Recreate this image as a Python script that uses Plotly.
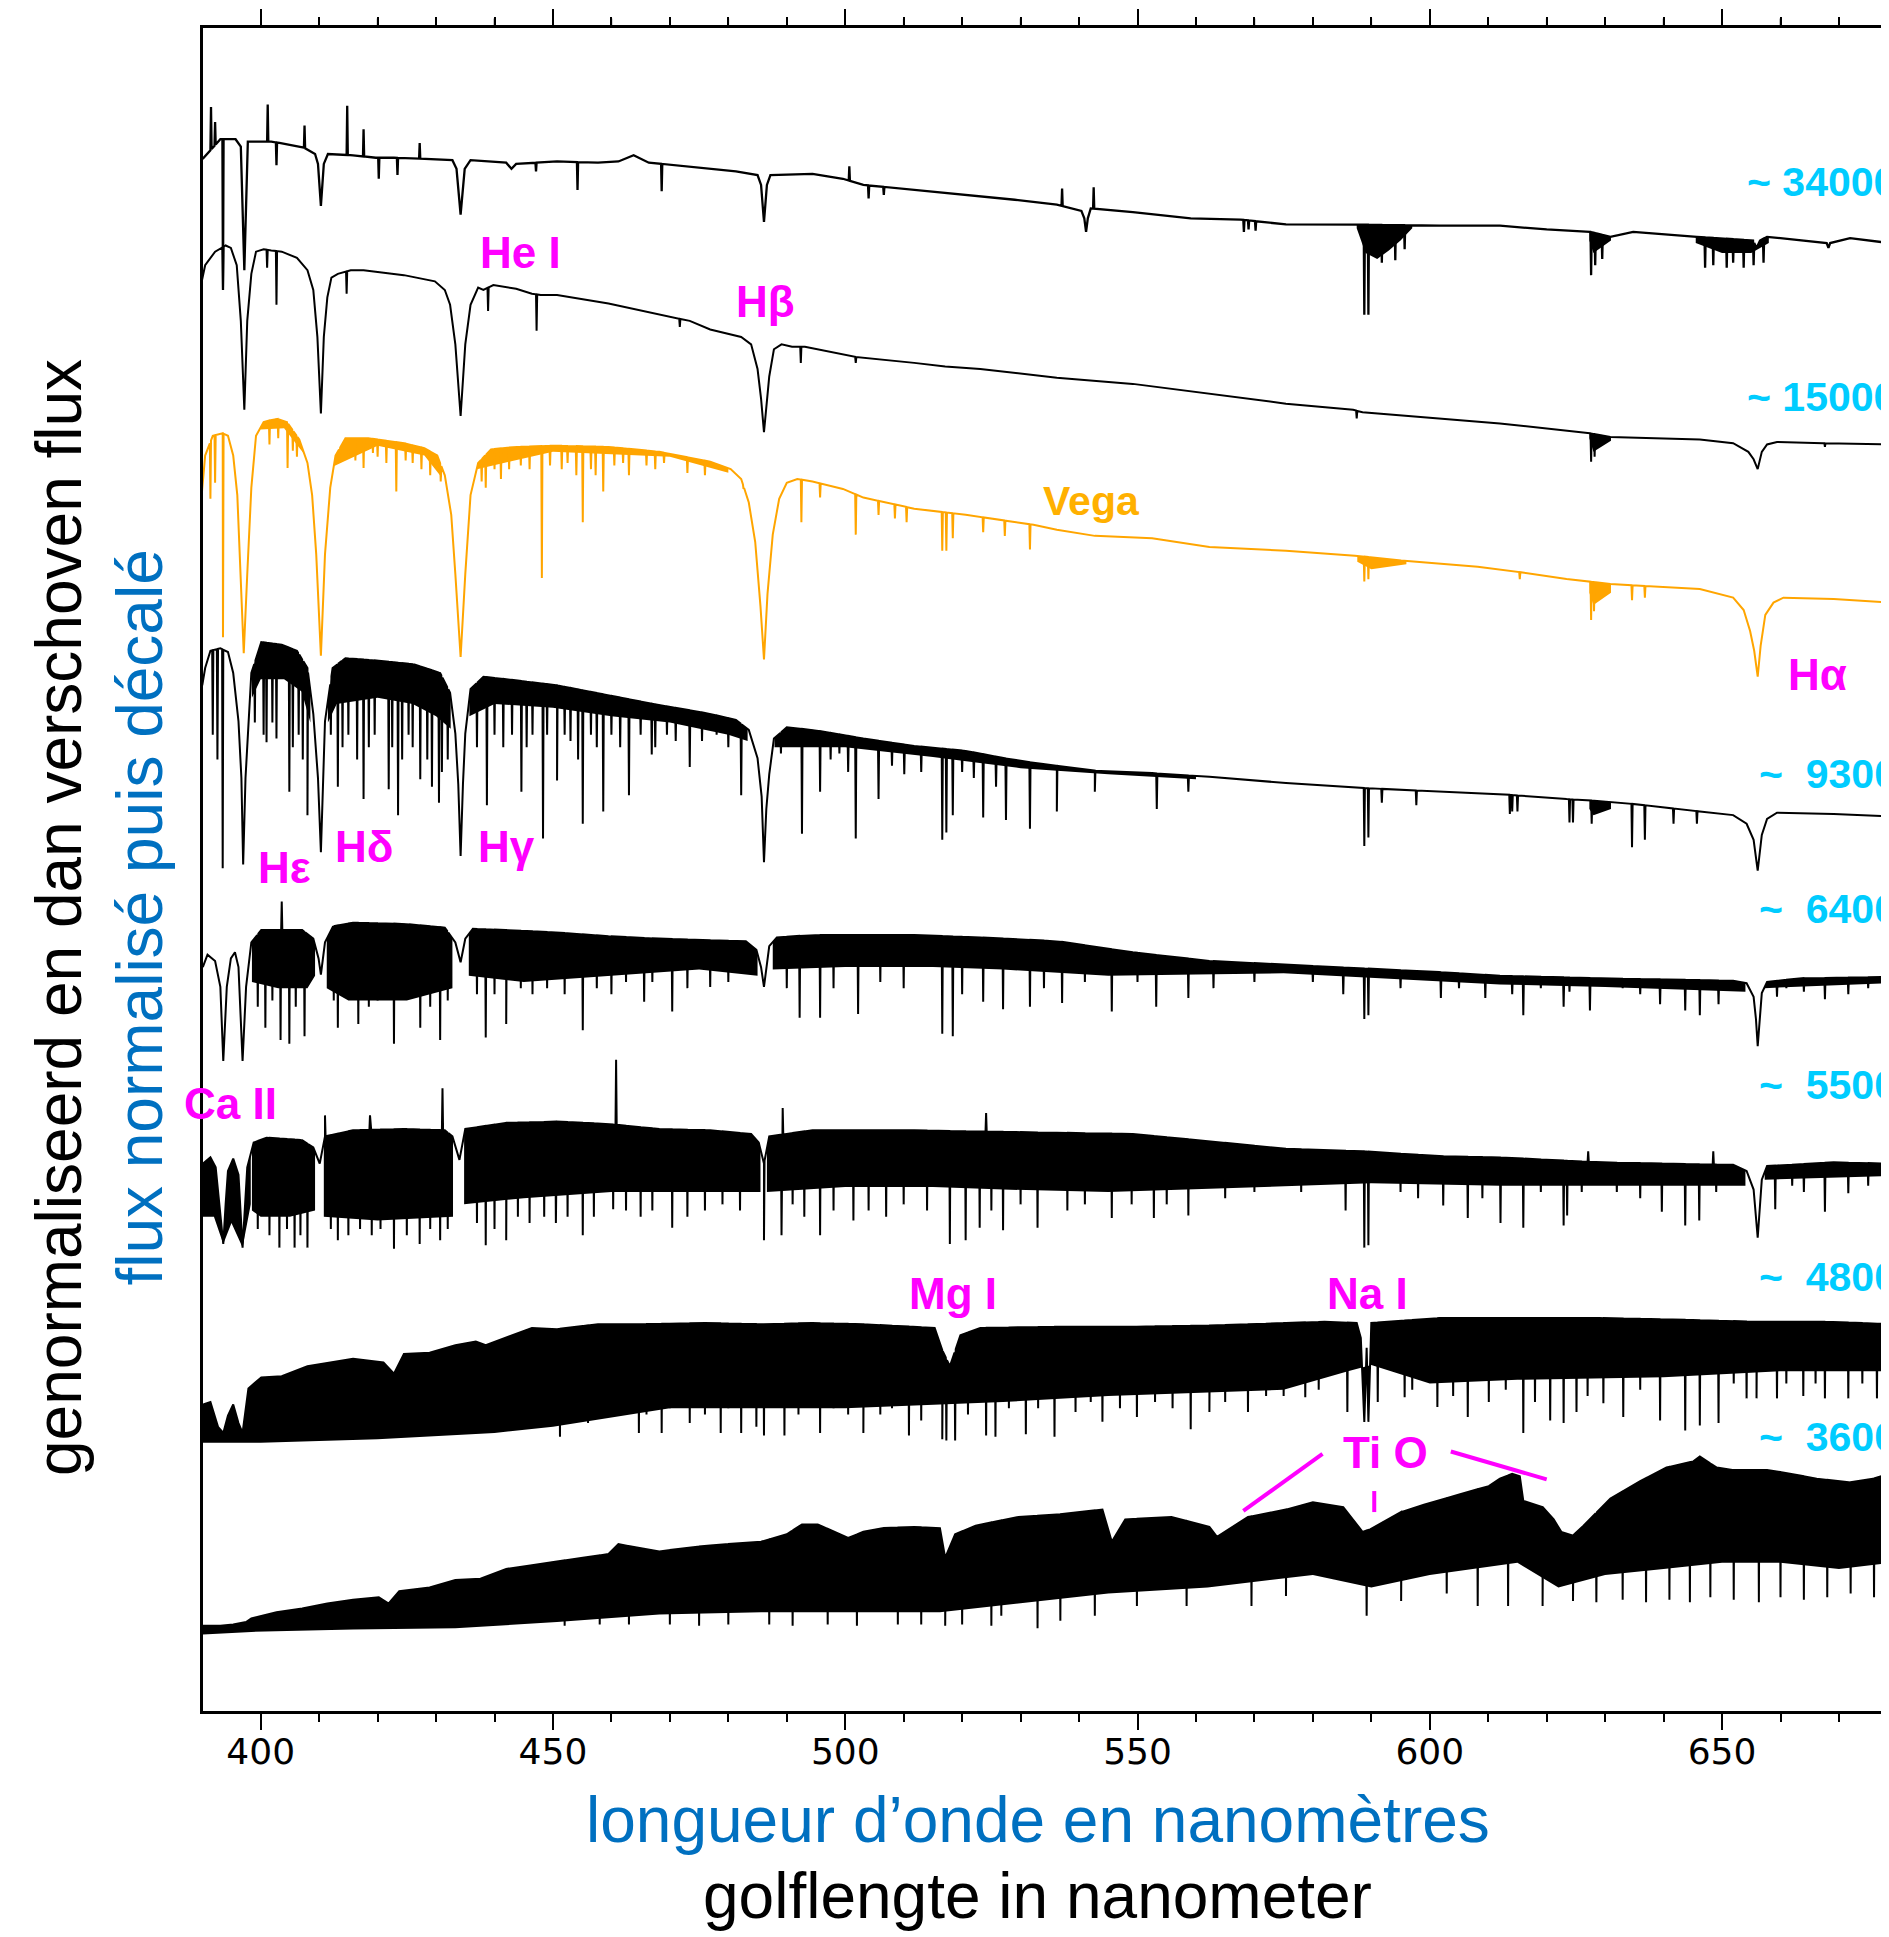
import numpy as np
import plotly.graph_objects as go

# ---------------- data ----------------
# every spectrum: continuum / profile points (wavelength nm, shifted normalised flux)
# narrow lines (wavelength, flux at line bottom or spike top)
# dense line-forest bands (wavelength, lower edge of the black band), None separates bands

T34_KNOTS = [(390.06,12.56),(393.1,12.72),(395.7,12.72),(396.6,12.66),(397.2,11.66),(397.8,12.70),(401.8,12.70),
    (403.2,12.69),(407.1,12.66),(409.3,12.60),(409.8,12.52),(410.3,12.18),(410.8,12.52),(411.5,12.60),(415.8,12.59),
    (419.7,12.57),(422.8,12.57),(428.9,12.56),(432.8,12.55),(433.5,12.48),(434.2,12.11),(434.9,12.48),(435.9,12.55),
    (442.0,12.53),(442.9,12.48),(443.7,12.52),(450.7,12.54),(457.7,12.53),(461.2,12.54),(463.8,12.59),(466.4,12.53),
    (470.8,12.51),(476.9,12.48),(481.3,12.46),(485.0,12.43),(485.6,12.35),(486.1,12.05),(486.6,12.35),(487.2,12.43),
    (494.4,12.44),(499.6,12.40),(503.1,12.35),(511.8,12.31),(520.6,12.27),(529.0,12.23),(536.2,12.19),(540.4,12.14),
    (540.9,12.08),(541.2,11.97),(541.5,12.08),(542.0,12.16),(549.2,12.13),(559.1,12.08),(567.6,12.07),(575.4,12.03),
    (586.6,12.03),(601.6,12.02),(612.0,12.02),(620.0,11.99),(627.4,11.97),(630.9,11.93),(634.8,11.97),(645.7,11.93),
    (655.3,11.90),(655.9,11.84),(656.5,11.90),(657.7,11.93),(667.9,11.88),(668.2,11.84),(668.5,11.88),(671.9,11.92),
    (678.6,11.88)]
T34_LINES = [(393.55,11.50),(402.7,12.51),(420.2,12.40),(423.4,12.43),(447.1,12.46),(454.2,12.31),(468.6,12.30),
    (504.0,12.24),(506.6,12.27),(568.2,11.97),(569.0,11.99),(570.2,11.98),(588.8,11.30),(589.5,11.30),(591.1,11.79),
    (591.8,11.72),(594.1,11.74),(595.7,11.83),(627.6,11.62),(628.3,11.70),(629.5,11.75),(647.1,11.68),(648.5,11.70),
    (650.8,11.68),(651.9,11.72),(653.7,11.68),(655.4,11.70),(657.1,11.72),
    (391.5,12.98),(392.2,12.86),(401.2,13.00),(407.5,12.83),(414.8,12.99),(417.6,12.80),(427.2,12.69),(500.7,12.50),
    (537.1,12.32),(542.5,12.33)]
T34_BANDS = [(587.5,12.00),(589.0,11.80),(591.0,11.75),(593.0,11.82),(595.0,11.90),(597.0,12.00),
    None,(627.3,11.90),(628.0,11.80),(631.0,11.90),None,(645.5,11.88),(650.0,11.80),(655.0,11.80),(658.0,11.88)]

T15_KNOTS = [(389.6,11.50),(390.5,11.70),(392.2,11.81),(394.0,11.86),(394.9,11.84),(395.9,11.70),(396.6,11.25),
    (397.2,10.53),(397.7,11.25),(398.4,11.63),(399.2,11.81),(400.5,11.83),(401.8,11.82),(403.6,11.81),(406.2,11.76),
    (408.0,11.66),(409.0,11.50),(409.7,11.12),(410.3,10.50),(410.8,11.12),(411.4,11.44),(412.1,11.60),(413.2,11.63),
    (415.4,11.66),(417.6,11.66),(424.5,11.62),(429.8,11.57),(431.5,11.50),(432.4,11.38),(433.3,11.06),(434.2,10.48),
    (435.0,11.06),(435.9,11.38),(437.2,11.52),(438.1,11.50),(439.8,11.54),(443.7,11.51),(446.4,11.47),(447.9,11.46),
    (450.7,11.46),(459.5,11.39),(468.2,11.30),(473.4,11.25),(476.9,11.18),(482.2,11.12),(483.9,11.06),(485.0,10.86),
    (485.6,10.62),(486.1,10.35),(486.6,10.62),(487.0,10.80),(487.8,11.02),(489.1,11.06),(490.9,11.04),(493.1,11.04),
    (501.4,10.96),(511.8,10.91),(517.1,10.88),(523.1,10.86),(536.2,10.79),(549.2,10.74),(562.3,10.66),(575.4,10.58),
    (586.9,10.53),(588.5,10.51),(601.6,10.46),(612.0,10.42),(627.4,10.34),(630.9,10.31),(646.2,10.29),(651.9,10.26),
    (654.5,10.19),(655.4,10.13),(656.1,10.05),(656.8,10.19),(657.7,10.25),(659.4,10.27),(667.3,10.26),(678.6,10.25)]
T15_LINES = [(393.55,11.50),(401.1,11.68),(402.7,11.38),(414.7,11.47),(438.9,11.33),(447.2,11.17),(471.7,11.20),
    (492.4,10.91),(501.8,10.91),(587.5,10.46),(627.6,10.11),(628.2,10.15),(667.6,10.23)]
T15_BANDS = [(627.3,10.30),(628.0,10.19),(631.0,10.28)]

VEGA_KNOTS = [(389.6,9.68),(390.5,10.16),(391.8,10.32),(393.5,10.34),(394.4,10.32),(395.3,10.16),(396.0,9.84),
    (396.6,9.20),(397.1,8.56),(397.7,9.20),(398.4,9.90),(399.2,10.32),(400.5,10.43),(402.7,10.46),(404.5,10.43),
    (406.6,10.29),(408.0,10.10),(408.8,9.84),(409.5,9.36),(410.3,8.54),(411.0,9.36),(411.9,9.90),(412.8,10.16),
    (414.5,10.30),(418.4,10.30),(424.5,10.26),(428.0,10.22),(430.2,10.16),(431.5,10.00),(432.6,9.68),(433.3,9.20),
    (434.2,8.53),(435.0,9.20),(435.9,9.84),(437.2,10.10),(439.4,10.21),(443.7,10.23),(450.7,10.24),(459.5,10.23),
    (468.2,10.19),(476.9,10.11),(480.4,10.05),(482.2,9.97),(483.5,9.78),(484.6,9.46),(485.5,8.94),(486.1,8.51),
    (486.7,9.04),(487.6,9.52),(488.7,9.81),(490.0,9.94),(491.8,9.97),(494.4,9.95),(499.6,9.89),(503.1,9.82),
    (511.8,9.73),(520.6,9.68),(532.2,9.60),(536.2,9.56),(542.7,9.51),(552.5,9.49),(562.3,9.42),(575.4,9.39),
    (587.2,9.35),(595.1,9.31),(608.2,9.26),(612.0,9.24),(623.4,9.16),(627.4,9.14),(630.9,9.12),(646.2,9.08),
    (651.9,9.01),(653.7,8.91),(654.8,8.74),(655.5,8.58),(656.1,8.37),(656.6,8.62),(657.4,8.87),(658.8,8.97),
    (660.5,9.01),(669.1,9.00),(678.6,8.97)]
VEGA_LINES = [(391.4,9.81),(392.2,9.94),(393.55,8.69),(401.5,10.25),(403.0,10.30),(404.6,10.06),(405.5,10.20),
    (406.2,10.15),(413.5,10.10),(415.0,10.15),(416.2,10.12),(417.6,10.06),(419.2,10.18),(420.0,10.15),(421.5,10.10),
    (423.2,9.87),(424.8,10.12),(426.0,10.10),(427.5,10.05),(429.0,10.00),(430.8,9.95),(437.8,9.95),(438.5,9.90),
    (440.0,10.05),(441.1,9.97),(442.5,10.05),(444.5,10.08),(446.0,10.05),(448.1,9.17),(449.5,10.08),(451.5,10.05),
    (452.5,10.10),(454.0,10.00),(455.1,9.62),(456.5,10.05),(457.3,10.00),(458.6,9.87),(460.5,10.08),(462.0,10.10),
    (463.0,10.00),(466.0,10.08),(467.5,10.05),(469.0,10.10),(473.0,10.02),(476.0,10.00),(482.6,9.89),(492.5,9.62),
    (495.7,9.82),(501.8,9.52),(505.7,9.68),(508.5,9.65),(510.5,9.62),(516.6,9.39),(517.3,9.39),(518.4,9.49),
    (523.6,9.54),(527.3,9.51),(531.6,9.40),(588.8,9.14),(589.5,9.16),(615.4,9.16),(627.6,8.83),(628.1,8.90),
    (634.6,8.99),(636.8,9.01)]
VEGA_BANDS = [(400.0,10.37),(404.0,10.38),(407.5,10.22),None,(412.5,10.08),(420.0,10.24),(428.0,10.16),(431.0,9.98),
    None,(437.0,10.05),(450.0,10.19),(470.0,10.15),(480.0,10.02),None,(587.6,9.30),(590.0,9.24),(596.0,9.28),
    None,(627.3,9.05),(628.0,8.95),(631.0,9.05)]

T93_KNOTS = [(390.0,8.30),(390.5,8.44),(391.4,8.58),(393.1,8.60),(394.4,8.57),(395.3,8.40),(396.2,8.01),(396.7,7.55),
    (397.0,6.85),(397.4,7.55),(397.7,7.84),(398.4,8.40),(400.1,8.65),(403.6,8.63),(406.2,8.58),(408.0,8.44),
    (409.0,8.07),(409.8,7.55),(410.3,6.95),(410.7,7.55),(411.0,8.01),(412.3,8.44),(414.5,8.52),(420.2,8.50),
    (426.3,8.47),(430.7,8.40),(432.4,8.24),(433.3,7.91),(433.8,7.50),(434.2,6.92),(434.6,7.50),(435.0,7.91),
    (435.9,8.27),(438.1,8.37),(442.0,8.35),(450.7,8.30),(459.5,8.22),(468.2,8.14),(476.9,8.07),(481.3,8.02),
    (483.5,7.94),(485.0,7.71),(485.7,7.40),(486.1,6.87),(486.5,7.30),(487.0,7.58),(487.8,7.87),(490.0,7.96),
    (494.4,7.94),(503.1,7.87),(511.8,7.81),(520.6,7.77),(529.6,7.69),(536.2,7.65),(542.7,7.61),(552.5,7.59),
    (562.3,7.56),(575.4,7.51),(588.5,7.47),(601.6,7.44),(612.0,7.42),(623.4,7.38),(627.4,7.37),(634.8,7.34),
    (646.2,7.28),(651.9,7.25),(654.2,7.18),(655.4,7.05),(656.1,6.80),(656.8,7.09),(657.7,7.22),(659.4,7.27),
    (669.1,7.26),(678.6,7.24)]
T93_LINES = [(391.8,7.90),(392.6,7.70),(393.5,6.82),(399.0,8.00),(400.5,7.90),(401.0,7.84),(402.0,8.00),(402.7,7.87),
    (404.9,7.44),(405.5,7.80),(406.5,7.90),(407.2,7.70),(408.0,7.25),(412.0,7.90),(413.2,7.48),(414.0,7.80),
    (415.0,7.90),(416.5,7.70),(417.6,7.38),(418.5,7.80),(419.5,7.90),(421.9,7.46),(422.5,7.80),(423.5,7.25),
    (424.2,7.70),(425.3,7.90),(426.0,7.80),(427.3,7.54),(428.5,7.70),(429.3,7.48),(430.5,7.35),(431.0,7.60),
    (432.0,7.70),(437.0,7.80),(438.7,7.33),(440.0,7.90),(441.5,7.80),(443.0,7.90),(444.6,7.44),(445.5,7.80),
    (446.5,7.90),(448.3,7.06),(449.0,7.90),(450.7,7.53),(452.0,7.90),(453.0,7.85),(454.3,7.70),(455.1,7.18),
    (456.5,7.90),(457.5,7.80),(458.6,7.28),(460.0,7.90),(461.5,7.80),(463.0,7.41),(465.0,7.90),(466.9,7.74),
    (467.5,7.80),(469.5,7.90),(471.0,7.85),(473.4,7.64),(475.5,7.85),(478.0,7.90),(480.0,7.80),(482.2,7.41),
    (489.0,7.75),(492.6,7.10),(495.7,7.44),(497.5,7.70),(499.0,7.75),(500.5,7.60),(501.8,7.06),(505.7,7.38),
    (508.0,7.65),(510.1,7.58),(513.0,7.60),(516.6,7.05),(517.3,7.11),(518.4,7.25),(520.0,7.60),(522.0,7.55),
    (523.6,7.23),(525.8,7.48),(527.5,7.21),(531.6,7.14),(536.2,7.28),(542.7,7.44),(553.3,7.30),(558.7,7.44),
    (588.8,7.00),(589.5,7.07),(591.8,7.35),(597.7,7.33),(613.7,7.26),(614.1,7.28),(615.0,7.28),(623.9,7.19),
    (624.5,7.19),(627.7,7.18),(634.6,6.99),(636.8,7.05),(641.7,7.18),(645.7,7.18)]
T93_BANDS = [(398.5,8.20),(400.0,8.35),(404.0,8.35),(407.0,8.25),(408.5,8.00),None,(411.5,8.00),(413.0,8.15),
    (420.0,8.20),(426.0,8.15),(430.0,8.05),(432.5,7.95),None,(435.7,8.05),(440.0,8.15),(450.0,8.12),(460.0,8.05),
    (470.0,8.00),(480.0,7.90),(483.3,7.85),None,(487.9,7.80),(500.0,7.80),(515.0,7.72),(530.0,7.63),(545.0,7.58),
    (560.0,7.54),None,(627.3,7.30),(628.0,7.25),(631.0,7.30)]

T64_KNOTS = [(390.1,6.02),(390.9,6.12),(392.2,6.07),(393.1,5.86),(393.6,5.26),(394.2,5.86),(394.9,6.09),(395.6,6.14),
    (396.2,6.02),(396.9,5.26),(397.5,5.86),(398.4,6.22),(400.1,6.32),(407.1,6.32),(409.0,6.25),(409.9,6.09),
    (410.3,5.96),(411.0,6.22),(412.3,6.35),(415.8,6.38),(424.5,6.37),(431.5,6.34),(433.3,6.22),(434.2,6.06),
    (435.0,6.25),(436.3,6.33),(442.0,6.32),(450.7,6.30),(459.5,6.27),(468.2,6.25),(483.0,6.23),(484.8,6.16),
    (485.6,6.02),(486.1,5.86),(486.5,6.02),(487.0,6.19),(488.3,6.26),(494.4,6.28),(511.8,6.28),(523.1,6.26),
    (536.2,6.23),(549.2,6.14),(562.3,6.07),(575.4,6.04),(588.5,6.01),(601.6,5.98),(612.0,5.95),(629.1,5.93),
    (640.5,5.92),(651.9,5.91),(654.2,5.89),(655.4,5.78),(655.8,5.60),(656.1,5.38),(656.4,5.60),(656.8,5.81),
    (657.7,5.90),(663.4,5.93),(678.6,5.94)]
T64_LINES = [(399.5,5.70),(400.8,5.53),(402.0,5.75),(403.4,5.43),(403.6,6.55),(404.9,5.40),(406.0,5.70),(407.5,5.46),
    (412.5,5.75),(413.2,5.53),(415.0,5.80),(416.7,5.56),(418.5,5.70),(420.0,5.75),(422.8,5.40),(425.5,5.80),
    (427.3,5.53),(429.0,5.70),(430.7,5.43),(432.0,5.75),(437.0,5.80),(438.5,5.45),(440.0,5.80),(442.0,5.56),
    (444.5,5.85),(446.5,5.80),(449.0,5.85),(452.0,5.80),(455.1,5.51),(457.5,5.85),(460.0,5.80),(462.5,5.90),
    (465.6,5.74),(467.0,5.90),(470.4,5.66),(473.0,5.85),(476.9,5.86),(480.0,5.90),(490.0,5.85),(492.2,5.61),
    (495.7,5.61),(498.0,5.85),(502.2,5.64),(506.0,5.90),(510.0,5.85),(516.6,5.48),(518.4,5.46),(520.0,5.80),
    (523.6,5.74),(527.0,5.68),(531.6,5.70),(534.0,5.85),(537.1,5.73),(541.0,5.90),(545.6,5.66),(550.0,5.90),
    (553.2,5.70),(558.7,5.77),(563.0,5.85),(570.0,5.90),(580.0,5.90),(585.2,5.80),(588.8,5.60),(589.5,5.63),
    (595.0,5.85),(601.9,5.77),(605.0,5.85),(609.5,5.77),(614.1,5.80),(616.0,5.63),(619.0,5.85),(622.9,5.70),
    (623.9,5.82),(627.4,5.67),(633.0,5.85),(636.0,5.80),(639.4,5.72),(643.7,5.67),(646.2,5.63),(649.4,5.72),
    (659.4,5.78),(661.0,5.85),(664.0,5.82),(667.6,5.76),(671.6,5.80),(675.0,5.85)]
T64_BANDS = [(398.5,5.90),(403.0,5.85),(408.0,5.85),(409.3,5.95),None,(411.3,5.85),(415.0,5.75),(425.0,5.75),
    (432.8,5.85),None,(435.6,5.95),(445.0,5.90),(460.0,5.95),(475.0,6.00),(485.0,5.95),None,(487.6,6.00),
    (500.0,6.02),(515.0,6.02),(527.0,6.00),(545.0,5.95),(560.0,5.96),(575.0,5.97),(590.0,5.93),(612.0,5.88),
    (630.0,5.86),(654.0,5.82),None,(657.2,5.86),(679.0,5.89)]

T55_KNOTS = [(390.1,4.43),(391.4,4.48),(392.3,4.40),(392.9,4.10),(393.6,3.78),(394.0,4.10),(394.4,4.37),(395.3,4.47),
    (396.2,4.34),(396.9,3.75),(397.7,4.40),(398.8,4.60),(401.0,4.64),(407.1,4.62),(409.0,4.56),(410.1,4.43),
    (411.0,4.65),(415.8,4.70),(424.5,4.71),(431.5,4.70),(432.8,4.65),(434.0,4.46),(435.0,4.71),(442.0,4.76),
    (450.7,4.77),(459.5,4.75),(468.2,4.71),(476.9,4.70),(483.9,4.67),(485.2,4.60),(486.1,4.43),(487.0,4.65),
    (494.4,4.70),(511.8,4.70),(523.1,4.69),(536.2,4.68),(549.2,4.67),(562.3,4.61),(575.4,4.55),(588.5,4.53),
    (601.6,4.49),(612.0,4.48),(629.1,4.44),(651.9,4.42),(654.2,4.37),(655.4,4.22),(656.1,3.83),(656.8,4.30),
    (657.7,4.41),(669.1,4.44),(678.6,4.43)]
T55_LINES = [(399.5,3.90),(401.5,3.85),(403.2,3.75),(404.5,3.90),(405.8,3.75),(406.8,3.85),(408.0,3.75),(412.0,3.90),
    (413.2,3.81),(415.0,3.85),(417.0,3.90),(419.0,3.85),(420.5,3.90),(422.8,3.74),(425.0,3.85),(427.2,3.78),
    (429.0,3.90),(430.7,3.81),(432.0,3.90),(437.0,3.95),(438.5,3.77),(440.0,3.90),(442.0,3.81),(444.0,4.00),
    (446.0,3.95),(448.5,4.00),(450.5,3.95),(452.5,4.00),(455.1,3.85),(457.0,4.00),(460.3,4.06),(462.5,4.05),
    (465.0,4.00),(467.0,4.05),(470.4,3.91),(473.0,4.00),(476.0,4.05),(479.0,4.10),(482.0,4.05),(486.1,3.81),
    (489.1,3.85),(491.0,4.10),(493.0,4.00),(495.7,3.85),(498.0,4.05),(501.4,3.97),(504.0,4.05),(507.0,4.00),
    (510.0,4.10),(514.0,4.05),(517.9,3.78),(520.6,3.81),(523.0,3.91),(525.0,4.05),(527.0,3.89),(530.0,4.10),
    (532.9,3.91),(538.0,4.05),(541.0,4.10),(545.6,3.99),(549.0,4.10),(552.8,3.99),(555.0,4.10),(558.7,4.01),
    (565.0,4.15),(570.0,4.20),(578.0,4.20),(585.6,4.05),(588.8,3.75),(589.5,3.77),(595.0,4.20),(598.0,4.15),
    (602.3,4.09),(606.5,3.99),(609.0,4.15),(612.1,3.95),(616.0,3.91),(619.0,4.20),(622.9,3.93),(623.5,4.01),
    (626.0,4.20),(632.0,4.20),(636.0,4.15),(639.7,4.04),(643.7,3.93),(646.1,3.97),(649.0,4.20),(659.1,4.06),
    (662.0,4.25),(664.0,4.20),(667.6,4.04),(671.6,4.19),(675.0,4.25),
    (411.0,4.82),(418.7,4.82),(431.1,5.04),(460.8,5.27),(489.3,4.88),(524.1,4.84),(627.1,4.53),(648.5,4.53)]
T55_BANDS = [(390.0,4.00),(392.0,4.00),(393.6,3.80),(395.0,3.95),(396.9,3.80),(398.3,4.10),None,(398.5,4.05),
    (400.0,4.00),(405.0,4.00),(409.3,4.05),None,(410.8,4.00),(420.0,3.97),(432.9,4.00),None,(434.8,4.10),
    (445.0,4.15),(460.0,4.20),(475.0,4.20),(485.5,4.20),None,(486.6,4.20),(500.0,4.24),(515.0,4.24),(527.0,4.22),
    (545.0,4.20),(560.0,4.22),(590.0,4.27),(612.0,4.25),(640.0,4.25),(654.0,4.25),None,(657.3,4.30),(679.0,4.33)]

T48_KNOTS = [(390.1,2.48),(391.4,2.50),(392.7,2.30),(393.6,2.25),(394.4,2.39),(395.3,2.48),(396.2,2.33),(396.9,2.25),
    (397.9,2.61),(400.1,2.70),(403.6,2.71),(408.0,2.79),(410.6,2.81),(415.8,2.85),(421.0,2.82),(422.8,2.73),
    (424.5,2.89),(428.9,2.90),(433.3,2.96),(436.8,2.99),(438.5,2.96),(442.0,3.02),(446.4,3.10),(450.7,3.09),
    (457.7,3.13),(463.8,3.13),(476.9,3.14),(485.6,3.13),(494.4,3.14),(503.1,3.13),(515.3,3.10),(516.6,2.92),
    (517.9,2.79),(519.7,3.04),(523.1,3.10),(536.2,3.11),(549.2,3.11),(562.3,3.12),(575.4,3.14),(582.0,3.15),
    (587.5,3.14),(588.2,3.02),(588.8,2.34),(589.2,2.94),(589.5,2.34),(590.0,3.14),(601.6,3.18),(612.0,3.18),
    (629.1,3.18),(640.5,3.17),(655.9,3.15),(669.1,3.15),(678.6,3.13)]
T48_LINES = [(451.2,2.22),(455.0,2.40),(456.0,2.33),(459.0,2.45),(461.0,2.40),(464.7,2.25),(466.0,2.40),(468.6,2.25),
    (470.0,2.45),(473.4,2.33),(476.0,2.40),(478.7,2.25),(480.0,2.45),(482.2,2.25),(484.8,2.30),(486.1,2.23),
    (489.6,2.23),(492.0,2.40),(495.7,2.25),(498.0,2.45),(500.5,2.40),(503.1,2.25),(506.0,2.40),(508.0,2.45),
    (510.9,2.23),(513.0,2.35),(516.6,2.20),(517.3,2.19),(518.8,2.19),(521.0,2.40),(524.1,2.23),(525.7,2.22),
    (528.0,2.45),(530.9,2.24),(533.0,2.45),(535.8,2.22),(539.4,2.42),(542.0,2.50),(544.0,2.34),(547.0,2.45),
    (549.9,2.38),(553.0,2.50),(556.0,2.45),(559.1,2.28),(562.3,2.42),(565.0,2.50),(568.9,2.42),(572.0,2.55),
    (575.0,2.55),(578.7,2.54),(581.0,2.60),(585.9,2.42),(591.1,2.50),(595.7,2.54),(597.0,2.60),(601.3,2.46),
    (604.0,2.55),(606.5,2.38),(610.1,2.50),(613.0,2.60),(616.0,2.25),(618.0,2.50),(620.6,2.35),(622.9,2.33),
    (625.1,2.42),(627.0,2.55),(629.7,2.49),(633.1,2.38),(636.0,2.60),(639.4,2.35),(643.7,2.27),(646.2,2.31),
    (649.4,2.33),(652.0,2.65),(654.2,2.53),(655.9,2.53),(659.4,2.53),(661.0,2.65),(663.9,2.55),(666.0,2.65),
    (667.6,2.53),(671.6,2.53),(674.0,2.65),(676.5,2.53)]
T48_BANDS = [(390.0,2.17),(400.0,2.17),(420.0,2.20),(440.0,2.25),(450.0,2.30),(470.0,2.45),(500.0,2.45),
    (527.0,2.50),(545.0,2.55),(575.0,2.60),(586.0,2.75),(590.0,2.80),(600.0,2.65),(615.0,2.68),(640.0,2.70),
    (660.0,2.75),(679.0,2.75)]

T36_KNOTS = [(390.1,0.69),(393.1,0.69),(395.3,0.70),(397.5,0.72),(398.4,0.75),(402.7,0.80),(407.1,0.83),(411.4,0.87),
    (415.8,0.90),(420.2,0.92),(421.9,0.87),(423.7,0.97),(428.9,1.00),(433.3,1.06),(437.6,1.07),(442.0,1.15),
    (446.4,1.18),(450.7,1.21),(455.1,1.24),(459.5,1.27),(461.2,1.35),(468.2,1.29),(472.6,1.32),(476.9,1.34),
    (485.6,1.37),(490.0,1.43),(492.6,1.51),(495.3,1.51),(500.5,1.40),(503.1,1.45),(506.6,1.48),(511.8,1.49),
    (516.2,1.48),(517.1,1.24),(518.8,1.43),(522.3,1.50),(529.6,1.57),(536.2,1.59),(544.0,1.63),(545.6,1.37),
    (547.9,1.55),(555.8,1.57),(562.3,1.49),(563.6,1.41),(568.9,1.57),(575.4,1.63),(580.0,1.69),(585.2,1.65),
    (588.5,1.45),(589.8,1.47),(595.1,1.61),(599.0,1.67),(604.9,1.75),(610.1,1.82),(612.0,1.88),(614.1,1.92),
    (615.4,1.90),(616.0,1.70),(619.3,1.65),(621.2,1.55),(622.5,1.45),(624.5,1.42),(626.3,1.50),(630.9,1.72),
    (636.0,1.86),(640.5,1.97),(645.1,2.02),(646.2,2.06),(649.1,1.97),(651.9,1.95),(657.7,1.95),(660.5,1.93),
    (666.2,1.88),(671.9,1.85),(675.9,1.88),(678.6,1.92)]
T36_LINES = [(452.0,0.69),(458.0,0.70),(463.0,0.70),(470.0,0.70),(475.0,0.69),(480.0,0.70),(487.0,0.70),(491.0,0.69),
    (497.0,0.70),(502.0,0.69),(509.0,0.70),(513.0,0.70),(517.1,0.69),(520.0,0.70),(525.0,0.69),(526.7,0.77),
    (532.9,0.67),(536.8,0.73),(542.7,0.77),(549.9,0.85),(558.4,0.85),(569.5,0.85),(575.4,0.93),(589.2,0.77),
    (595.1,0.89),(602.9,0.95),(608.2,0.85),(613.4,0.85),(619.3,0.85),(624.5,0.89),(628.5,0.88),(633.0,0.90),
    (637.0,0.88),(641.0,0.90),(644.5,0.88),(648.0,0.92),(652.0,0.90),(656.3,0.88),(660.0,0.92),(664.0,0.90),
    (668.0,0.92),(672.0,0.95),(676.0,0.92)]
T36_BANDS = [(390.1,0.62),(398.4,0.64),(415.8,0.66),(433.3,0.67),(450.7,0.72),(468.2,0.78),(485.6,0.80),(503.1,0.80),
    (516.2,0.80),(526.5,0.85),(545.0,0.95),(562.0,1.00),(580.0,1.10),(590.0,1.00),(600.0,1.10),(615.0,1.20),
    (622.0,1.00),(630.0,1.10),(640.0,1.15),(650.0,1.20),(660.0,1.20),(670.0,1.15),(679.0,1.20)]

# text labels
LINE_LABELS = ["He I", "Hβ", "Hα", "Hε", "Hδ", "Hγ", "Ca II", "Mg I", "Na I", "Ti O"]
LINE_LABEL_WL = [444.4, 486.3, 666.3, 404.0, 417.7, 442.1, 394.76, 518.45, 589.4, 592.45]
LINE_LABEL_FX = [11.80, 11.41, 8.39, 6.83, 7.00, 7.00, 4.92, 3.38, 3.38, 2.09]
VEGA_LABEL = ("Vega", 542.2, 9.79)
TEMP_LABELS = ["~ 34000 K", "~ 15000 K", "~  9300 K", "~  6400 K", "~  5500 K", "~  4800 K", "~  3600 K"]
TEMP_WL = [653.9, 653.9, 656.0, 656.0, 656.0, 656.0, 656.0]
TEMP_FX = [12.37, 10.63, 7.58, 6.49, 5.07, 3.51, 2.22]
TIO_SEGMENTS = [((568.1, 1.62), (581.65, 2.08)), ((603.6, 2.10), (620.0, 1.875)), ((590.5, 1.78), (590.5, 1.61))]

X_RANGE = [390.13, 679.93]
Y_RANGE = [0.0, 13.62]
TOP_MINOR_TICKS = [w for w in range(390, 680, 10) if w % 50 != 0]

# ---------------- helpers ----------------
def spectrum_xy(knots, lines, half=0.1):
    kw = np.array([k[0] for k in knots], float)
    kf = np.array([k[1] for k in knots], float)
    pts = list(knots)
    for w, f in lines:
        pts.append((w - half, float(np.interp(w - half, kw, kf))))
        pts.append((w, f))
        pts.append((w + half, float(np.interp(w + half, kw, kf))))
    pts.sort(key=lambda p: p[0])
    return [p[0] for p in pts], [p[1] for p in pts]


def band_xy(knots, bands):
    kw = np.array([k[0] for k in knots], float)
    kf = np.array([k[1] for k in knots], float)
    segs, cur = [], []
    for b in bands:
        if b is None:
            if cur:
                segs.append(cur)
            cur = []
        else:
            cur.append(b)
    if cur:
        segs.append(cur)
    xs, ys = [], []
    for seg in segs:
        sw = np.array([p[0] for p in seg], float)
        sf = np.array([p[1] for p in seg], float)
        lo, hi = sw.min(), sw.max()
        inner = kw[(kw > lo) & (kw < hi)]
        tw = np.concatenate([[lo], inner, [hi]])
        tf = np.interp(tw, kw, kf)
        bf = np.minimum(sf, np.interp(sw, kw, kf))
        xs += list(tw) + list(sw[::-1]) + [lo, None]
        ys += list(tf) + list(bf[::-1]) + [tf[0], None]
    return xs, ys


SPECTRA = [
    (T34_KNOTS, T34_LINES, T34_BANDS, "black", 2.3),
    (T15_KNOTS, T15_LINES, T15_BANDS, "black", 2.0),
    (VEGA_KNOTS, VEGA_LINES, VEGA_BANDS, "#FFA500", 2.0),
    (T93_KNOTS, T93_LINES, T93_BANDS, "black", 2.0),
    (T64_KNOTS, T64_LINES, T64_BANDS, "black", 2.0),
    (T55_KNOTS, T55_LINES, T55_BANDS, "black", 2.0),
    (T48_KNOTS, T48_LINES, T48_BANDS, "black", 2.0),
    (T36_KNOTS, T36_LINES, T36_BANDS, "black", 2.0),
]

fig = go.Figure()
for knots, lines, bands, color, lw in SPECTRA:
    bx, by = band_xy(knots, bands)
    fig.add_trace(go.Scatter(x=bx, y=by, mode="lines", fill="toself", fillcolor=color,
                             line=dict(width=0, color=color), hoverinfo="skip", showlegend=False))
    sx, sy = spectrum_xy(knots, lines)
    fig.add_trace(go.Scatter(x=sx, y=sy, mode="lines", line=dict(width=lw, color=color),
                             hoverinfo="skip", showlegend=False))

ANN_FONT = "Liberation Sans, Arial, sans-serif"
annotations = []
for t, w, f in zip(LINE_LABELS, LINE_LABEL_WL, LINE_LABEL_FX):
    annotations.append(dict(x=w, y=f, xref="x", yref="y", text="<b>" + t + "</b>", showarrow=False,
                            xanchor="center", yanchor="middle",
                            font=dict(family=ANN_FONT, size=44, color="#FF00FF")))
annotations.append(dict(x=VEGA_LABEL[1], y=VEGA_LABEL[2], xref="x", yref="y", text="<b>" + VEGA_LABEL[0] + "</b>",
                        showarrow=False, xanchor="center", yanchor="middle",
                        font=dict(family=ANN_FONT, size=41, color="#FFB000")))
for t, w, f in zip(TEMP_LABELS, TEMP_WL, TEMP_FX):
    annotations.append(dict(x=w, y=f, xref="x", yref="y", text="<b>" + t + "</b>", showarrow=False,
                            xanchor="left", yanchor="middle",
                            font=dict(family=ANN_FONT, size=41, color="#00CCFF")))

# axis titles
annotations += [
    dict(x=0.4929, y=-0.0648, xref="paper", yref="paper", text="longueur d’onde en nanomètres", showarrow=False,
         xanchor="center", yanchor="middle", font=dict(family=ANN_FONT, size=64, color="#0070C0")),
    dict(x=0.4929, y=-0.1102, xref="paper", yref="paper", text="golflengte in nanometer", showarrow=False,
         xanchor="center", yanchor="middle", font=dict(family=ANN_FONT, size=64, color="black")),
    dict(x=-0.0850, y=0.4712, xref="paper", yref="paper", text="genormaliseerd en dan verschoven flux", showarrow=False,
         textangle=-90, xanchor="center", yanchor="middle", font=dict(family=ANN_FONT, size=64, color="black")),
    dict(x=-0.0374, y=0.4712, xref="paper", yref="paper", text="flux normalisé puis décalé", showarrow=False,
         textangle=-90, xanchor="center", yanchor="middle", font=dict(family=ANN_FONT, size=64, color="#0070C0")),
]

shapes = []
for (x0, y0), (x1, y1) in TIO_SEGMENTS:
    shapes.append(dict(type="line", xref="x", yref="y", x0=x0, y0=y0, x1=x1, y1=y1,
                       line=dict(color="#FF00FF", width=4)))
for w in TOP_MINOR_TICKS:
    shapes.append(dict(type="line", xref="x", yref="paper", ysizemode="pixel", yanchor=1,
                       x0=w, x1=w, y0=1.5, y1=9.5, line=dict(color="black", width=1.5)))

fig.update_layout(
    template="none",
    width=1889, height=1937,
    margin=dict(l=195, r=0, t=20, b=234, pad=0),
    paper_bgcolor="white", plot_bgcolor="white",
    showlegend=False,
    annotations=annotations,
    shapes=shapes,
    xaxis=dict(range=X_RANGE, showgrid=False, zeroline=False, showline=True, linecolor="black", linewidth=3,
               mirror="ticks", ticks="outside", ticklen=16, tickwidth=1.5, tickcolor="black",
               tick0=400, dtick=50, ticklabelstandoff=-9,
               minor=dict(dtick=10, tick0=400, ticks="outside", ticklen=8, tickwidth=1.5, tickcolor="black",
                          showgrid=False),
               tickfont=dict(family="DejaVu Sans", size=36, color="black"), automargin=False),
    yaxis=dict(range=Y_RANGE, showgrid=False, zeroline=False, showline=True, linecolor="black", linewidth=3,
               ticks="", showticklabels=False, automargin=False),
)

fig.write_html("out.html")
